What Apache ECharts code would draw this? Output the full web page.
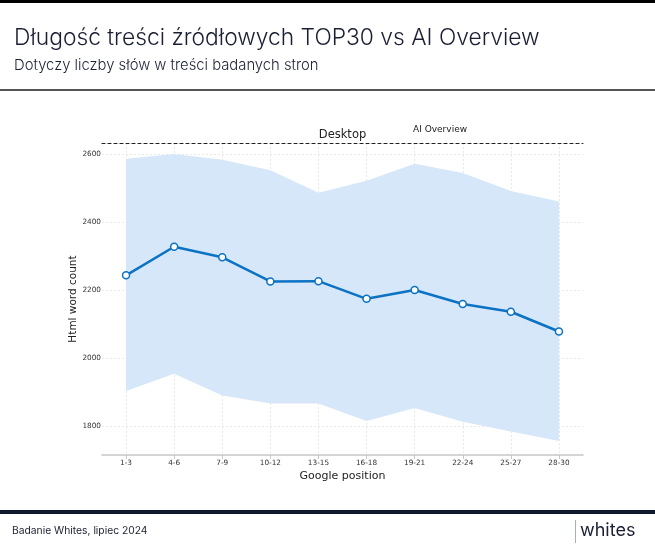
<!DOCTYPE html>
<html>
<head>
<meta charset="utf-8">
<script src="https://cdn.jsdelivr.net/npm/echarts@6/dist/echarts.min.js"></script>
<style>
html,body{margin:0;padding:0;background:#fff;}
#chart{width:655px;height:550px;}
</style>
</head>
<body>
<div id="chart"></div>
<script>
const categories = ['1-3','4-6','7-9','10-12','13-15','16-18','19-21','22-24','25-27','28-30'];
const meanValues = [2243, 2327, 2296, 2225, 2226, 2174, 2200, 2159, 2136, 2078];
const upperValues = [2586, 2600, 2583, 2552, 2486, 2521, 2571, 2544, 2491, 2460];
const lowerValues = [1903, 1954, 1890, 1866, 1866, 1815, 1853, 1813, 1784, 1756];
const yTicks = [1800, 2000, 2200, 2400, 2600];

const bandSpan = upperValues.map((v, i) => v - lowerValues[i]);

const chart = echarts.init(document.getElementById('chart'), null, {renderer: 'canvas'});
const chartFont = '"DejaVu Sans", sans-serif';
const option = {
  backgroundColor: '#ffffff',
  animation: false,
  title: [
    {text: 'Długość treści źródłowych TOP30 vs AI Overview', left: 14, top: 27, padding: 0,
     textStyle: {fontFamily: 'Inter', fontSize: 22.8, fontWeight: 300, color: '#1b1f33'}},
    {text: 'Dotyczy liczby słów w treści badanych stron', left: 14, top: 58, padding: 0,
     textStyle: {fontFamily: 'Inter', fontSize: 14.8, fontWeight: 300, color: '#1b1f33'}},
    {text: 'Badanie Whites, lipiec 2024', left: 12, top: 526, padding: 0,
     textStyle: {fontFamily: 'Inter', fontSize: 10.3, fontWeight: 400, color: '#1b1f33'}},
    {text: 'whites', left: 580, top: 522, padding: 0,
     textStyle: {fontFamily: 'Inter', fontSize: 18, fontWeight: 400, color: '#1b1f33'}}
  ],
  graphic: [
    {type: 'rect', left: 0, top: 0, shape: {width: 655, height: 3}, style: {fill: '#000000'}},
    {type: 'rect', left: 0, top: 89, shape: {width: 655, height: 2}, style: {fill: '#555555'}},
    {type: 'rect', left: 0, top: 510, shape: {width: 655, height: 4}, style: {fill: '#0d1a2b'}},
    {type: 'rect', left: 575, top: 520, shape: {width: 1, height: 23}, style: {fill: '#9fb3c8'}},
    {type: 'text', left: 413, top: 125, style: {text: 'AI Overview', fontFamily: chartFont, fontSize: 9, fill: '#222'}}
  ],
  grid: {left: 102, right: 72, top: 143, bottom: 95},
  xAxis: [
    {
      type: 'category', data: categories, boundaryGap: true,
      axisLine: {show: true, lineStyle: {color: '#c8c8c8', width: 1.5}},
      axisTick: {show: true, alignWithLabel: true, length: 4, lineStyle: {color: '#c8c8c8'}},
      axisLabel: {fontFamily: chartFont, fontSize: 7.3, color: '#333', margin: 5},
      splitLine: {show: true, alignWithLabel: true, lineStyle: {color: '#e2e2e2', type: [2, 2], width: 0.8}},
      name: 'Google position', nameLocation: 'middle', nameGap: 16, nameMoveOverlap: false,
      nameTextStyle: {fontFamily: chartFont, fontSize: 11, color: '#222', verticalAlign: 'top'}
    },
    {
      type: 'category', data: categories, boundaryGap: true, position: 'top',
      axisLine: {show: true, lineStyle: {color: '#222', width: 1, type: [3, 3]}},
      axisTick: {show: false}, axisLabel: {show: false}, splitLine: {show: false},
      name: 'Desktop', nameLocation: 'middle', nameGap: 2, nameMoveOverlap: false,
      nameTextStyle: {fontFamily: chartFont, fontSize: 11.5, color: '#222', verticalAlign: 'bottom'}
    }
  ],
  yAxis: {
    type: 'value', min: 1715, max: 2632, minInterval: 200, maxInterval: 200,
    axisLine: {show: false}, axisTick: {show: false},
    axisLabel: {fontFamily: chartFont, fontSize: 7.3, color: '#333', margin: 1,
      formatter: v => (yTicks.indexOf(v) >= 0 ? String(v) : '')},
    splitLine: {show: true, lineStyle: {color: '#e2e2e2', type: [2, 2], width: 0.8}},
    name: 'Html word count', nameLocation: 'middle', nameGap: 23, nameMoveOverlap: false,
    nameTextStyle: {fontFamily: chartFont, fontSize: 10.5, color: '#222', verticalAlign: 'bottom'}
  },
  series: [
    {type: 'line', data: lowerValues, stack: 'band', symbol: 'none', silent: true,
     lineStyle: {opacity: 0}, areaStyle: {opacity: 0}},
    {type: 'line', data: bandSpan, stack: 'band', symbol: 'none', silent: true,
     lineStyle: {opacity: 0}, areaStyle: {color: '#d5e7f8', opacity: 1}},
    {type: 'line', data: meanValues, symbol: 'circle', symbolSize: 7,
     lineStyle: {color: '#0b72c4', width: 2.5},
     itemStyle: {color: '#ffffff', borderColor: '#0b72c4', borderWidth: 1.5}, z: 5}
  ]
};
chart.setOption(option);
</script>
</body>
</html>
